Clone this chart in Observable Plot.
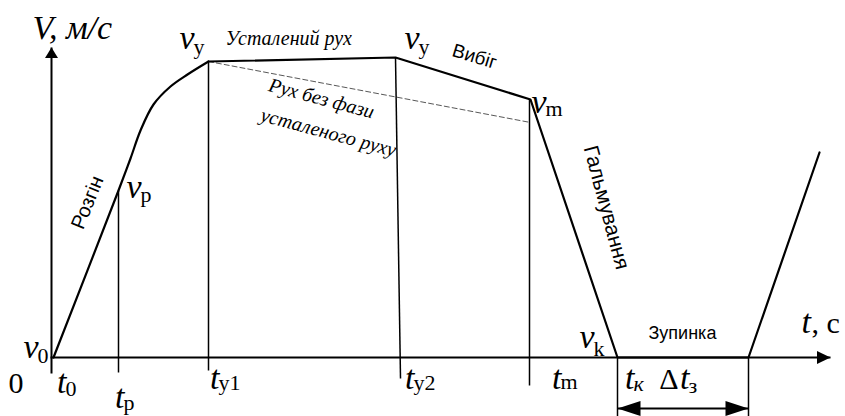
<!DOCTYPE html>
<html>
<head>
<meta charset="utf-8">
<script src="https://cdn.jsdelivr.net/npm/d3@7"></script>
<script src="https://cdn.jsdelivr.net/npm/@observablehq/plot@0.6"></script>
<style>
  html, body { margin: 0; padding: 0; background: #fff; }
  #chart { width: 845px; height: 416px; }
</style>
</head>
<body>
<div id="chart"></div>
<script>
// ---- Data (time units t, velocity units v; schematic) ----
const accelT = [3, 68, 80, 90, 103, 120, 137, 158];
const accelV = [0, 167, 199, 227, 253, 271, 283, 296];
const profileT = [158, 345, 480, 567, 698, 769];
const profileV = [296, 300, 258, 0, 0, 205];
const dashT = [158, 480];
const dashV = [296, 235];

// vertical marker lines at characteristic moments
const markT1 = [68, 158, 345, 479, 567, 698];
const markTop = [167, 296, 300, 258, 0, 0];
const markT2 = [68, 158, 350, 479, 567, 698];
const markBottom = [-15, -13, -21, -28, -59, -59];

// axes
const axisT = [1, 0];
const axisV = [-16, 0];
const axisTEnd = [1, 780];
const axisVEnd = [310, 0];
const axisHeadRot = [0, 90];
const axisHeadLen = [14, 18];

// stop interval dimension
const stopT = [567, 698];
const stopV = -51;

// symbol labels: main italic letter (ends where subscript starts) + subscript
const symMain = ["v", "v", "v", "v", "v", "v", "t", "t", "t", "t", "t", "t", "t"];
const symV = [309, 309, 245, 160, 0, 10, -35, -50, -31, -31, -31, -31, -31];
const subText = ["у", "у", "m", "p", "0", "k", "0", "p", "у1", "у2", "m", "к", "з"];
const subT = [143, 368, 495, 90, -13, 543, 15, 73, 168, 363, 510, 583, 638];
const subV = [304, 304, 242, 156, -5, 2, -38, -52, -32, -32, -31, -33, -35];
const subItalic = [false, false, false, false, false, false, false, false, false, false, false, true, false];

// other labels
const axisLabels = [
  {text: "V, м/с", t: -18, v: 319, size: 34, style: "italic", anchor: "start"},
  {text: "t", t: 751, v: 25, size: 34, style: "italic", anchor: "start"},
  {text: "0", t: -42, v: -35, size: 30, style: "normal", anchor: "start"},
  {text: "Δ", t: 628, v: -31, size: 30, style: "normal", anchor: "end"},
  {text: ", с", t: 761, v: 25, size: 30, style: "normal", anchor: "start"}
];
const phaseLabels = [
  {text: "Усталений рух", t: 175, v: 313, rot: 0, serif: true, size: 20, anchor: "start"},
  {text: "Рух без фази", t: 271, v: 259, rot: 15, serif: true, size: 20, anchor: "middle"},
  {text: "усталеного руху", t: 278, v: 225, rot: 15, serif: true, size: 20, anchor: "middle"},
  {text: "Вибіг", t: 424, v: 301, rot: 17, serif: false, size: 19, anchor: "middle"},
  {text: "Гальмування", t: 556, v: 150, rot: 75, serif: false, size: 21, anchor: "middle"},
  {text: "Розгін", t: 37, v: 155, rot: -68, serif: false, size: 20, anchor: "middle"},
  {text: "Зупинка", t: 598, v: 19, rot: 0, serif: false, size: 18, anchor: "start"}
];

// ---- Derived tables ----
const accel = accelT.map((t, i) => ({t, v: accelV[i]}));
const profile = profileT.map((t, i) => ({t, v: profileV[i]}));
const dash = dashT.map((t, i) => ({t, v: dashV[i]}));
const marks = markT1.map((t, i) => ({t1: t, v1: markTop[i], t2: markT2[i], v2: markBottom[i]}));
const axes = axisT.map((t, i) => ({t1: t, v1: axisV[i], t2: axisTEnd[i], v2: axisVEnd[i], rot: axisHeadRot[i], len: axisHeadLen[i]}));
const syms = symMain.map((s, i) => ({s, t: subT[i] + 1, v: symV[i]}));
const subs = subText.map((s, i) => ({s, t: subT[i], v: subV[i], it: subItalic[i]}));
const stopHeads = [{t: stopT[0], v: stopV, rot: -90}, {t: stopT[1], v: stopV, rot: 90}];

const head = {
  draw(ctx, l, r) {
    ctx.moveTo(0, -l);
    ctx.lineTo(-r, 0);
    ctx.lineTo(r, 0);
    ctx.closePath();
  }
};

const SERIF = "Liberation Serif";
const SANS = "Liberation Sans";

const chart = Plot.plot({
  width: 845,
  height: 416,
  marginLeft: 50,
  marginRight: 15,
  marginTop: 47,
  marginBottom: 59,
  x: {domain: [0, 780], axis: null},
  y: {domain: [0, 310], axis: null},
  style: {background: "#fff", color: "#000"},
  marks: [
    // axes
    Plot.link(axes, {x1: "t1", y1: "v1", x2: "t2", y2: "v2", stroke: "#000", strokeWidth: 2}),
    Plot.vector(axes, {x: "t2", y: "v2", rotate: "rot", length: "len", r: 6.5, anchor: "end", shape: head, fill: "#000", stroke: "none"}),
    // vertical markers
    Plot.link(marks, {x1: "t1", y1: "v1", x2: "t2", y2: "v2", stroke: "#000", strokeWidth: 1.5}),
    // dashed alternative
    Plot.line(dash, {x: "t", y: "v", stroke: "#444", strokeWidth: 0.9, strokeDasharray: "5,3"}),
    // speed profile
    Plot.line(accel, {x: "t", y: "v", curve: "catmull-rom", stroke: "#000", strokeWidth: 2.2}),
    Plot.line(profile, {x: "t", y: "v", stroke: "#000", strokeWidth: 2.2, strokeLinejoin: "miter"}),
    // stop interval dimension
    Plot.link([{t1: stopT[0], t2: stopT[1], v: stopV}], {x1: "t1", x2: "t2", y1: "v", y2: "v", stroke: "#000", strokeWidth: 2}),
    Plot.vector(stopHeads, {x: "t", y: "v", rotate: "rot", length: 23, r: 7.5, anchor: "end", shape: head, fill: "#000", stroke: "none"}),
    // symbol labels
    Plot.text(syms, {x: "t", y: "v", text: "s", textAnchor: "end", lineAnchor: "bottom", fontFamily: SERIF, fontStyle: "italic", fontSize: 34, fill: "#000"}),
    Plot.text(subs.filter(d => !d.it), {x: "t", y: "v", text: "s", textAnchor: "start", lineAnchor: "bottom", fontFamily: SERIF, fontSize: 22, fill: "#000"}),
    Plot.text(subs.filter(d => d.it), {x: "t", y: "v", text: "s", textAnchor: "start", lineAnchor: "bottom", fontFamily: SERIF, fontStyle: "italic", fontSize: 22, fill: "#000"}),
    ...axisLabels.map(d => Plot.text([d], {x: "t", y: "v", text: "text", textAnchor: d.anchor, lineAnchor: "bottom", fontFamily: SERIF, fontStyle: d.style, fontSize: d.size, fill: "#000"})),
    // phase labels
    ...phaseLabels.map(d => Plot.text([d], {x: "t", y: "v", text: "text", rotate: d.rot, textAnchor: d.anchor, lineAnchor: d.anchor === "start" ? "bottom" : "middle", fontFamily: d.serif ? SERIF : SANS, fontStyle: d.serif ? "italic" : "normal", fontSize: d.size, fill: "#000"}))
  ]
});
document.getElementById("chart").appendChild(chart);
</script>
</body>
</html>
